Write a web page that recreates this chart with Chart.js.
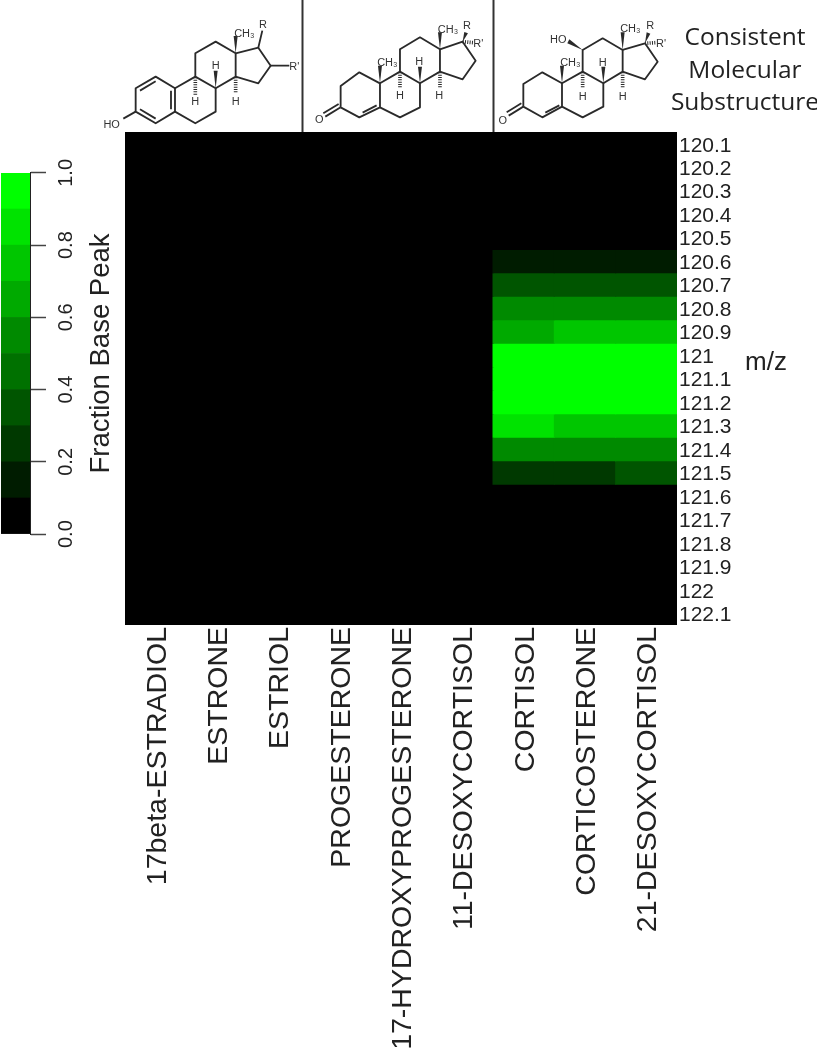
<!DOCTYPE html>
<html>
<head>
<meta charset="utf-8">
<title>Steroid m/z heatmap</title>
<script src="https://cdn.jsdelivr.net/npm/chart.js@4"></script>
<style>
    html, body { margin: 0; padding: 0; background: #fff; overflow: hidden; }
    #page { position: relative; width: 817px; height: 1050px; }
    #heatmap { position: absolute; left: 0; top: 0; }
    /* colour key is drawn horizontally, then turned so 0 is at the bottom */
    #key { position: absolute; left: 0; top: 556px; transform-origin: 0 0; transform: rotate(-90deg); }
    #mol { position: absolute; left: 0; top: 0; }
    #mol .bond { fill: none; stroke: #2a2a2a; stroke-width: 5.5; stroke-linejoin: round; }
    #mol .hash { fill: none; stroke: #2a2a2a; stroke-width: 11; stroke-dasharray: 3 4; }
    #mol .wedge { fill: #2a2a2a; }
    #mol text { font-family: "Liberation Sans", sans-serif; font-size: 33px; fill: #333; text-anchor: middle; }
    #mol .sep { stroke: #333; stroke-width: 2; }
    .note { position: absolute; color: #222; white-space: nowrap; }
    #substructure { left: 660px; top: 20px; width: 170px; font: 24.5px/32.5px "Open Sans", sans-serif; text-align: center; }
    #mz { left: 745px; top: 346px; font: 26px/30px "Liberation Sans", sans-serif; }
</style>
</head>
<body>
<div id="page">
    <canvas id="heatmap" width="817" height="1050"></canvas>
    <canvas id="key" width="405" height="125"></canvas>

    <svg id="mol" width="817" height="132" viewBox="0 0 817 132">
        <line class="sep" x1="302.5" y1="0" x2="302.5" y2="132"/>
        <line class="sep" x1="493.5" y1="0" x2="493.5" y2="132"/>

        <!-- estrogen skeleton -->
        <g transform="translate(90,0) scale(0.3333)">
            <path class="bond" d="M137 265L197 230L255 265L255 335L197 370L137 335Z"/>
            <path class="bond" d="M150 272L197 244M243 272L243 328M150 328L197 356"/>
            <path class="bond" d="M137 335L100 356"/>
            <path class="bond" d="M255 265L316 230L377 265L377 335L316 370L255 335"/>
            <path class="bond" d="M316 230L316 160L377 125L437 160L437 230L377 265"/>
            <path class="bond" d="M437 160L505 143L542 197L505 250L437 230"/>
            <path class="bond" d="M505 143L517 92M542 197L598 197"/>
            <polygon class="wedge" points="437,160 431,108 443,108"/>
            <polygon class="wedge" points="377,265 371,212 383,212"/>
            <line class="hash" x1="316" y1="232" x2="316" y2="284"/>
            <line class="hash" x1="437" y1="232" x2="437" y2="280"/>
            <text x="65" y="384">HO</text>
            <text x="463" y="110">CH₃</text>
            <text x="519" y="85">R</text>
            <text x="613" y="210">R'</text>
            <text x="316" y="316">H</text>
            <text x="377" y="208">H</text>
            <text x="437" y="314">H</text>
        </g>

        <!-- progesterone skeleton -->
        <g transform="translate(90,0) scale(0.3333)">
            <path class="bond" d="M752 322L752 258L808 217L870 250L870 322L808 352L752 322"/>
            <path class="bond" d="M818 338L860 316"/>
            <path class="bond" d="M752 322L706 350M746 312L700 340"/>
            <path class="bond" d="M870 250L930 215L990 250L990 322L930 352L870 322"/>
            <path class="bond" d="M930 215L930 148L990 112L1050 148L1050 215L990 250"/>
            <path class="bond" d="M1050 148L1118 125L1157 182L1118 238L1050 215"/>
            <polygon class="wedge" points="870,250 864,197 876,197"/>
            <polygon class="wedge" points="1050,148 1044,97 1056,97"/>
            <polygon class="wedge" points="1118,125 1123,96 1134,100"/>
            <polygon class="wedge" points="990,250 984,200 996,200"/>
            <line class="hash" x1="1118" y1="125" x2="1150" y2="128"/>
            <line class="hash" x1="930" y1="217" x2="930" y2="265"/>
            <line class="hash" x1="1050" y1="217" x2="1050" y2="265"/>
            <text x="688" y="370">O</text>
            <text x="892" y="198">CH₃</text>
            <text x="1074" y="98">CH₃</text>
            <text x="1131" y="88">R</text>
            <text x="1165" y="142">R'</text>
            <text x="930" y="298">H</text>
            <text x="988" y="196">H</text>
            <text x="1048" y="298">H</text>
        </g>

        <!-- corticoid skeleton -->
        <g transform="translate(490,0) scale(0.3333)">
            <path class="bond" d="M100 320L100 252L157 217L216 250L216 320L157 352L100 320"/>
            <path class="bond" d="M166 338L208 316"/>
            <path class="bond" d="M100 320L56 347M94 310L50 337"/>
            <path class="bond" d="M216 250L278 215L340 250L340 320L278 352L216 320"/>
            <path class="bond" d="M278 215L278 150L338 115L398 150L398 215L340 250"/>
            <path class="bond" d="M398 150L465 130L503 185L465 238L398 215"/>
            <polygon class="wedge" points="216,250 210,197 222,197"/>
            <polygon class="wedge" points="398,150 392,97 404,97"/>
            <polygon class="wedge" points="465,130 470,97 481,101"/>
            <polygon class="wedge" points="278,150 232,130 238,118"/>
            <polygon class="wedge" points="340,250 334,200 346,200"/>
            <line class="hash" x1="465" y1="130" x2="497" y2="128"/>
            <line class="hash" x1="278" y1="217" x2="278" y2="265"/>
            <line class="hash" x1="398" y1="217" x2="398" y2="265"/>
            <text x="38" y="372">O</text>
            <text x="205" y="130">HO</text>
            <text x="241" y="197">CH₃</text>
            <text x="421" y="97">CH₃</text>
            <text x="481" y="88">R</text>
            <text x="513" y="141">R'</text>
            <text x="278" y="301">H</text>
            <text x="338" y="197">H</text>
            <text x="398" y="301">H</text>
        </g>
    </svg>

    <div id="substructure" class="note">Consistent<br>Molecular<br>Substructure</div>
    <div id="mz" class="note">m/z</div>
</div>

<script>
var compounds = ['17beta-ESTRADIOL', 'ESTRONE', 'ESTRIOL', 'PROGESTERONE', '17-HYDROXYPROGESTERONE',
    '11-DESOXYCORTISOL', 'CORTISOL', 'CORTICOSTERONE', '21-DESOXYCORTISOL'];

var mzLabels = ['120.1', '120.2', '120.3', '120.4', '120.5', '120.6', '120.7', '120.8', '120.9', '121', '121.1',
    '121.2', '121.3', '121.4', '121.5', '121.6', '121.7', '121.8', '121.9', '122', '122.1'];

// fraction of base peak, one row per m/z, one column per compound
var fractions = [
    [0, 0, 0, 0, 0, 0, 0, 0, 0],
    [0, 0, 0, 0, 0, 0, 0, 0, 0],
    [0, 0, 0, 0, 0, 0, 0, 0, 0],
    [0, 0, 0, 0, 0, 0, 0, 0, 0],
    [0, 0, 0, 0, 0, 0, 0, 0, 0],
    [0, 0, 0, 0, 0, 0, 0.15, 0.15, 0.15],
    [0, 0, 0, 0, 0, 0, 0.35, 0.35, 0.35],
    [0, 0, 0, 0, 0, 0, 0.52, 0.52, 0.52],
    [0, 0, 0, 0, 0, 0, 0.68, 0.78, 0.78],
    [0, 0, 0, 0, 0, 0, 1, 1, 1],
    [0, 0, 0, 0, 0, 0, 1, 1, 1],
    [0, 0, 0, 0, 0, 0, 1, 1, 1],
    [0, 0, 0, 0, 0, 0, 0.85, 0.78, 0.78],
    [0, 0, 0, 0, 0, 0, 0.52, 0.52, 0.52],
    [0, 0, 0, 0, 0, 0, 0.25, 0.25, 0.35],
    [0, 0, 0, 0, 0, 0, 0, 0, 0],
    [0, 0, 0, 0, 0, 0, 0, 0, 0],
    [0, 0, 0, 0, 0, 0, 0, 0, 0],
    [0, 0, 0, 0, 0, 0, 0, 0, 0],
    [0, 0, 0, 0, 0, 0, 0, 0, 0],
    [0, 0, 0, 0, 0, 0, 0, 0, 0]
];

// one colour per 0.1 bin of the key, black to full green
var binColors = ['#000000', '#001c00', '#003900', '#005500', '#007100', '#008a00', '#00aa00', '#00c600', '#00e300', '#00ff00'];
var binWidths = [0.1, 0.1, 0.1, 0.1, 0.1, 0.1, 0.1, 0.1, 0.1, 0.1];

var textColor = '#222';
var sans = '"Liberation Sans", sans-serif';

function colorFor(v) {
    return binColors[Math.min(binColors.length - 1, Math.floor(v * 10))];
}

// every row is one stack segment of height 1, the colour carries the value
var rowSets = mzLabels.map(function(label, i) {
    return {
        label: label,
        data: compounds.map(function() { return 1 }),
        backgroundColor: fractions[i].map(colorFor),
        borderWidth: 0,
        inflateAmount: 0.5,
        barPercentage: 1,
        categoryPercentage: 1
    };
});

new Chart(document.getElementById('heatmap').getContext('2d'), {
    type: 'bar',
    data: { labels: compounds, datasets: rowSets },
    options: {
        responsive: false,
        animation: false,
        layout: { padding: { left: 125, top: 132, right: 0, bottom: 0 } },
        plugins: { legend: { display: false }, tooltip: { enabled: false } },
        scales: {
            x: {
                stacked: true,
                grid: { display: false, drawTicks: false },
                border: { display: false },
                afterFit: function(scale) { scale.height = 425 },
                ticks: {
                    autoSkip: false, minRotation: 90, maxRotation: 90, padding: 2,
                    labelOffset: 2,
                    color: textColor, font: { family: sans, size: 28.5 }
                }
            },
            y: {
                stacked: true,
                position: 'right',
                reverse: true,
                min: 0,
                max: mzLabels.length,
                grid: { display: false, drawTicks: false },
                border: { display: false },
                afterFit: function(scale) { scale.width = 140 },
                afterBuildTicks: function(scale) {
                    scale.ticks = mzLabels.map(function(l, i) { return { value: i + 0.5 } });
                },
                ticks: {
                    autoSkip: false,
                    padding: 2,
                    labelOffset: 2,
                    color: textColor,
                    font: { family: sans, size: 21 },
                    callback: function(v) { return mzLabels[Math.floor(v)] }
                }
            }
        }
    }
});

var keySets = binColors.map(function(c, i) {
    return {
        data: [binWidths[i]],
        backgroundColor: c,
        borderWidth: 0,
        barPercentage: 1,
        categoryPercentage: 1
    };
});

new Chart(document.getElementById('key').getContext('2d'), {
    type: 'bar',
    data: { labels: ['key'], datasets: keySets },
    options: {
        indexAxis: 'y',
        responsive: false,
        animation: false,
        layout: { padding: { left: 20, right: 20, top: 1, bottom: 0 } },
        plugins: { legend: { display: false }, tooltip: { enabled: false } },
        scales: {
            y: { stacked: true, display: false },
            x: {
                stacked: true,
                min: 0,
                max: 1,
                afterFit: function(scale) { scale.height = 95 },
                grid: { drawOnChartArea: false, tickLength: 16, color: '#444', tickWidth: 1.5 },
                border: { display: true, color: '#222' },
                ticks: {
                    stepSize: 0.2,
                    padding: 8,
                    color: textColor,
                    font: { family: sans, size: 20 },
                    callback: function(v) { return v.toFixed(1) }
                },
                title: {
                    display: true,
                    text: 'Fraction Base Peak',
                    color: textColor,
                    font: { family: sans, size: 27.5 },
                    padding: { top: 0, bottom: 7 }
                }
            }
        }
    }
});
</script>
</body>
</html>
